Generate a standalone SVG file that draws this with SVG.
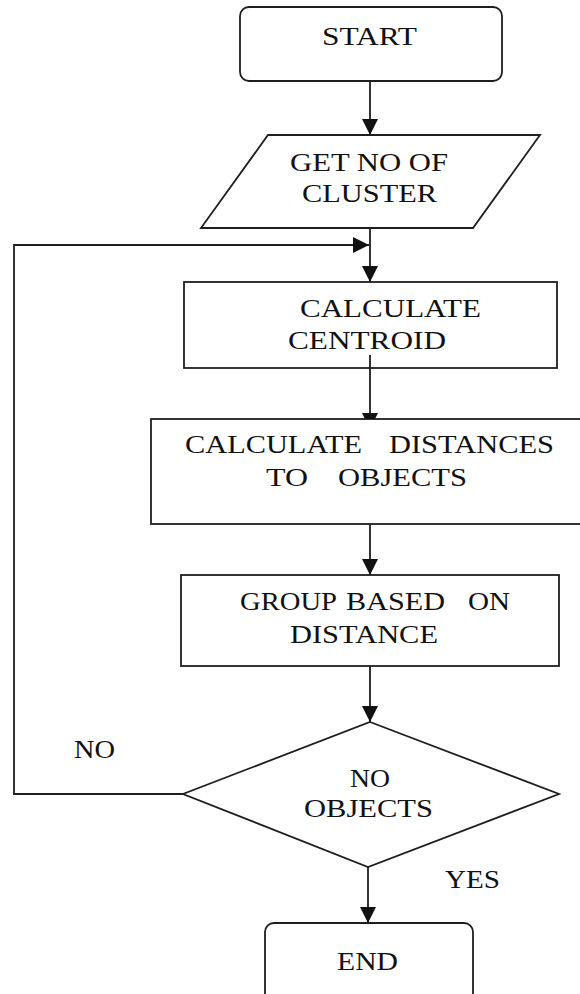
<svg xmlns="http://www.w3.org/2000/svg" width="580" height="994" viewBox="0 0 580 994">
  <style>
    .shape { fill: #ffffff; stroke: #1e1e1e; stroke-width: 1.8; }
    .wire { fill: none; stroke: #1e1e1e; stroke-width: 1.8; }
    text { font-family: "Liberation Serif", "Times New Roman", serif; font-size: 25px; fill: #111111; }
  </style>
  <defs>
    <marker id="arrow" viewBox="0 0 16 16" refX="16" refY="8" markerWidth="16" markerHeight="16" markerUnits="userSpaceOnUse" orient="auto">
      <path d="M0,0 L16,8 L0,16 Z" fill="#111111"/>
    </marker>
    <!-- keeps the arrow into the distances box from showing below its top edge -->
    <clipPath id="aboveDistances">
      <rect x="0" y="0" width="580" height="419"/>
    </clipPath>
  </defs>

  <!-- flow steps -->
  <g id="start">
    <rect class="shape" x="240" y="7" width="262" height="74" rx="9" ry="9"/>
    <text x="322" y="45" textLength="95" lengthAdjust="spacingAndGlyphs">START</text>
  </g>

  <g id="get-clusters">
    <polygon class="shape" points="268,135 540,135 473,228 201,228"/>
    <text x="290" y="171" textLength="158" lengthAdjust="spacingAndGlyphs">GET NO OF</text>
    <text x="302" y="202" textLength="135" lengthAdjust="spacingAndGlyphs">CLUSTER</text>
  </g>

  <g id="calc-centroid">
    <rect class="shape" x="184" y="282" width="373" height="86"/>
    <text x="300" y="317" textLength="181" lengthAdjust="spacingAndGlyphs">CALCULATE</text>
    <text x="288" y="349" textLength="158" lengthAdjust="spacingAndGlyphs">CENTROID</text>
  </g>

  <g id="calc-distances">
    <rect class="shape" x="151" y="419" width="440" height="105"/>
    <text y="453"><tspan x="185" textLength="177" lengthAdjust="spacingAndGlyphs">CALCULATE</tspan><tspan x="389" textLength="165" lengthAdjust="spacingAndGlyphs">DISTANCES</tspan></text>
    <text y="486"><tspan x="266" textLength="42" lengthAdjust="spacingAndGlyphs">TO</tspan><tspan x="338" textLength="129" lengthAdjust="spacingAndGlyphs">OBJECTS</tspan></text>
  </g>

  <g id="group-by-distance">
    <rect class="shape" x="181" y="575" width="378" height="91"/>
    <text y="610"><tspan x="240" textLength="97" lengthAdjust="spacingAndGlyphs">GROUP</tspan><tspan x="346" textLength="99" lengthAdjust="spacingAndGlyphs">BASED</tspan><tspan x="468" textLength="42" lengthAdjust="spacingAndGlyphs">ON</tspan></text>
    <text x="290" y="643" textLength="148" lengthAdjust="spacingAndGlyphs">DISTANCE</text>
  </g>

  <g id="no-objects">
    <polygon class="shape" points="370,722 559,794 368,867 183,794"/>
    <text x="350" y="787" textLength="40" lengthAdjust="spacingAndGlyphs">NO</text>
    <text x="304" y="817" textLength="129" lengthAdjust="spacingAndGlyphs">OBJECTS</text>
  </g>

  <g id="end">
    <rect class="shape" x="265" y="923" width="208" height="90" rx="9" ry="9"/>
    <text x="337" y="970" textLength="61" lengthAdjust="spacingAndGlyphs">END</text>
  </g>

  <!-- connectors -->
  <g id="connectors">
    <path class="wire" d="M370,81 L370,135" marker-end="url(#arrow)"/>
    <path class="wire" d="M370,228 L370,282" marker-end="url(#arrow)"/>
    <path class="wire" d="M370,355 L370,429" marker-end="url(#arrow)" clip-path="url(#aboveDistances)"/>
    <path class="wire" d="M370,524 L370,575" marker-end="url(#arrow)"/>
    <path class="wire" d="M370,666 L370,722" marker-end="url(#arrow)"/>
    <path class="wire" d="M368,867 L368,923" marker-end="url(#arrow)"/>
    <path class="wire" d="M183,794 L14,794 L14,245 L369,245" marker-end="url(#arrow)"/>
    <text x="74" y="758" textLength="41" lengthAdjust="spacingAndGlyphs">NO</text>
    <text x="445" y="888" textLength="55" lengthAdjust="spacingAndGlyphs">YES</text>
  </g>
</svg>
